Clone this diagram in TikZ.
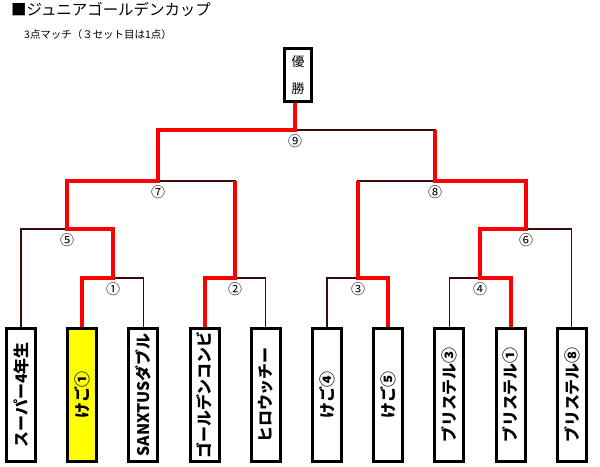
\documentclass[tikz,border=0pt]{standalone}
\usepackage{fontspec}
\setmainfont{Noto Sans CJK JP}
\usepackage{graphicx}
\usetikzlibrary{positioning}
\definecolor{winred}{HTML}{FF0000}
\definecolor{wirec}{HTML}{3A0C0C}
\definecolor{champ}{HTML}{FFFF00}

\begin{document}
\begin{tikzpicture}[
    x=1bp, y=-1bp,
    node distance=29.2bp,
    team/.style={draw, line width=3bp, minimum width=29bp, minimum height=133bp, inner sep=0pt, fill=white, font=\fontsize{16}{16}\selectfont\bfseries},
    champbox/.style={draw, line width=3bp, minimum width=27bp, minimum height=53bp, inner sep=0pt, align=center, font=\fontsize{13}{27}\selectfont},
    num/.style={inner sep=0pt, font=\fontsize{14}{14}\selectfont},
    wire/.style={wirec, line width=1.2bp},
    win/.style={winred, line width=4bp, line join=miter}
]
  \useasboundingbox (0,0) rectangle (600,467);

  % headings
  \node[anchor=west, inner sep=0pt, font=\fontsize{15.5}{16}\selectfont] (title) at (11,9) {■ジュニアゴールデンカップ};
  \node[anchor=west, inner sep=0pt, font=\fontsize{10.5}{11}\selectfont] (sub) at (24,35) {3点マッチ（３セット目は1点）};

  % teams
  \node[team] (team1) at (21,395) {\rotatebox{90}{スーパー4年生}};
  \node[team, fill=champ, right=of team1] (team2) {\rotatebox{90}{けご①}};
  \node[team, right=of team2] (team3) {\rotatebox{90}{SANXTUSダブル}};
  \node[team, right=of team3] (team4) {\rotatebox{90}{ゴールデンコンビ}};
  \node[team, right=of team4] (team5) {\rotatebox{90}{ヒロウッチー}};
  \node[team, right=of team5] (team6) {\rotatebox{90}{けご④}};
  \node[team, right=of team6] (team7) {\rotatebox{90}{けご⑤}};
  \node[team, right=of team7] (team8) {\rotatebox{90}{ブリステル③}};
  \node[team, right=of team8] (team9) {\rotatebox{90}{ブリステル①}};
  \node[team, right=of team9] (team10) {\rotatebox{90}{ブリステル⑧}};

  \node[champbox] (win) at (298,75) {優\\勝};

  % match points
  \coordinate (m1) at (113,278);
  \coordinate (m2) at (235,278);
  \coordinate (m3) at (358,278);
  \coordinate (m4) at (480,278);
  \coordinate (m5) at (67,229);
  \coordinate (m6) at (526,229);
  \coordinate (m7) at (158,181);
  \coordinate (m8) at (435,181);
  \coordinate (m9) at (295,130);

  % bracket
  \draw[wire] (team2.north) |- (m1) -| (team3.north);
  \draw[wire] (team4.north) |- (m2) -| (team5.north);
  \draw[wire] (team6.north) |- (m3) -| (team7.north);
  \draw[wire] (team8.north) |- (m4) -| (team9.north);
  \draw[wire] (team1.north) |- (m5) -| (m1);
  \draw[wire] (m4) |- (m6) -| (team10.north);
  \draw[wire] (m5) |- (m7) -| (m2);
  \draw[wire] (m3) |- (m8) -| (m6);
  \draw[wire] (m7) |- (m9) -| (m8);

  % winners
  \draw[win] (team2.north) |- (m1) |- (m5) |- (m7) |- (m9) -- (m9 |- win.south);
  \draw[win] (team4.north) |- (m2) -- (m2 |- m7);
  \draw[win] (team7.north) |- (m3) -- (m3 |- m8);
  \draw[win] (team9.north) |- (m4) |- (m6) |- (m8) -- (m8 |- m9);

  % match numbers
  \node[num, below=5bp of m1] (n1) {①};
  \node[num, below=5bp of m2] (n2) {②};
  \node[num, below=5bp of m3] (n3) {③};
  \node[num, below=5bp of m4] (n4) {④};
  \node[num, below=5bp of m5] (n5) {⑤};
  \node[num, below=5bp of m6] (n6) {⑥};
  \node[num, below=5bp of m7] (n7) {⑦};
  \node[num, below=5bp of m8] (n8) {⑧};
  \node[num, below=5bp of m9] (n9) {⑨};
\end{tikzpicture}
\end{document}
